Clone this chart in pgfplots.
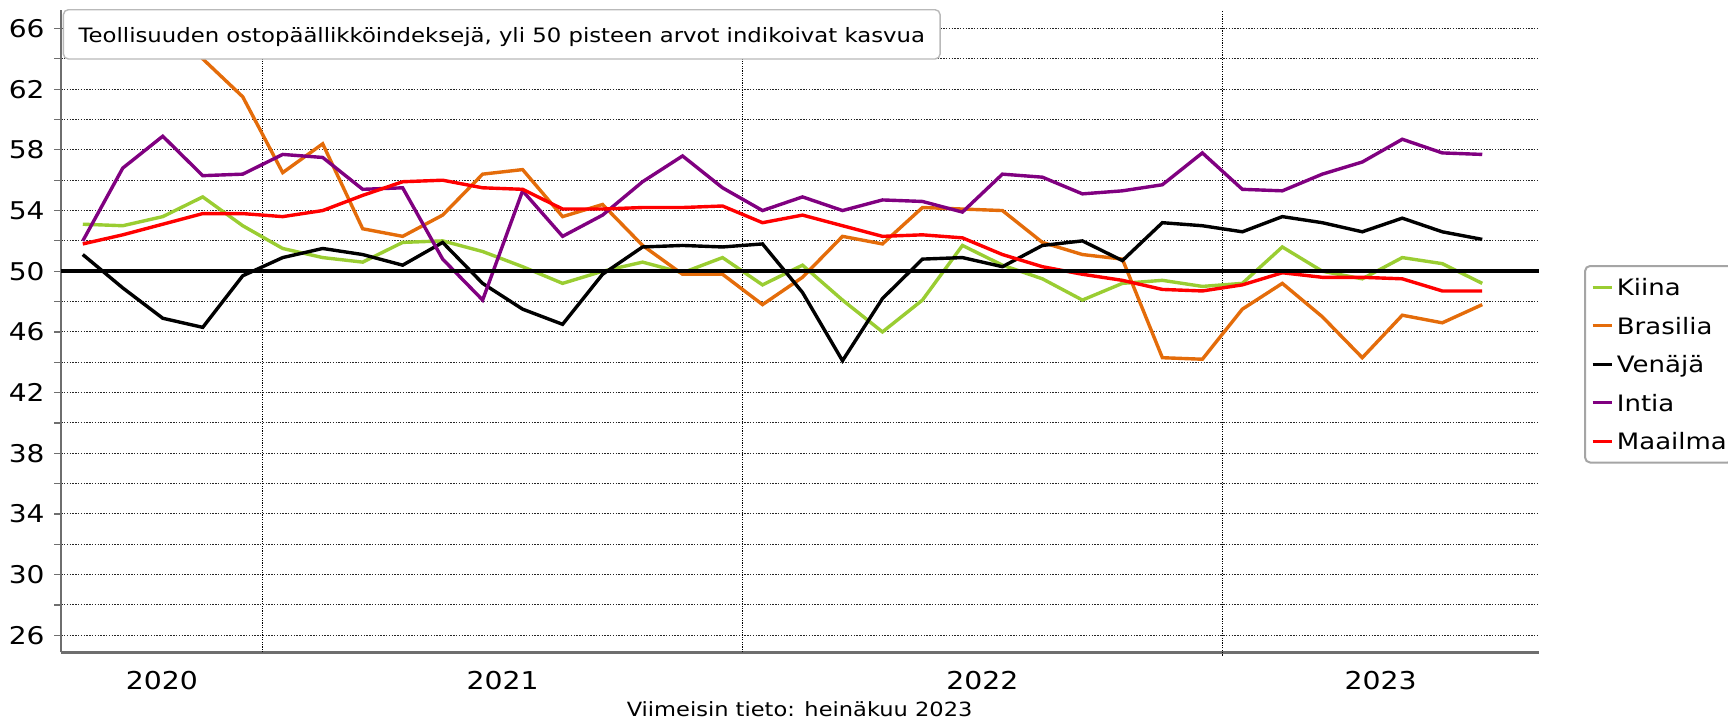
\documentclass[border=0pt]{standalone}
\usepackage{fontspec}
\setmainfont{DejaVu Sans}[FakeStretch=1.15]
\usepackage{pgfplots}
\usepackage{pgfplotstable}
\pgfplotsset{compat=1.18}
\definecolor{cKiina}{RGB}{154,205,50}
\definecolor{cBras}{RGB}{228,108,10}
\definecolor{cInt}{RGB}{128,0,128}
\definecolor{cMaa}{RGB}{255,0,0}
\definecolor{axgray}{RGB}{110,110,110}
\definecolor{boxgray}{RGB}{165,165,165}
\definecolor{titlegray}{RGB}{185,185,185}

\pgfplotstableread{
i kiina brasilia venaja intia maailma
0 53.1 64.7 51.1 52.0 51.8
1 53.0 64.9 48.9 56.8 52.4
2 53.6 66.7 46.9 58.9 53.1
3 54.9 64.0 46.3 56.3 53.8
4 53.0 61.5 49.7 56.4 53.8
5 51.5 56.5 50.9 57.7 53.6
6 50.9 58.4 51.5 57.5 54.0
7 50.6 52.8 51.1 55.4 55.0
8 51.9 52.3 50.4 55.5 55.9
9 52.0 53.7 51.9 50.8 56.0
10 51.3 56.4 49.2 48.1 55.5
11 50.3 56.7 47.5 55.3 55.4
12 49.2 53.6 46.5 52.3 54.1
13 50.0 54.4 49.8 53.7 54.1
14 50.6 51.7 51.6 55.9 54.2
15 49.9 49.8 51.7 57.6 54.2
16 50.9 49.8 51.6 55.5 54.3
17 49.1 47.8 51.8 54.0 53.2
18 50.4 49.6 48.6 54.9 53.7
19 48.1 52.3 44.1 54.0 53.0
20 46.0 51.8 48.2 54.7 52.3
21 48.1 54.2 50.8 54.6 52.4
22 51.7 54.1 50.9 53.9 52.2
23 50.4 54.0 50.3 56.4 51.1
24 49.5 51.9 51.7 56.2 50.3
25 48.1 51.1 52.0 55.1 49.8
26 49.2 50.8 50.7 55.3 49.4
27 49.4 44.3 53.2 55.7 48.8
28 49.0 44.2 53.0 57.8 48.7
29 49.2 47.5 52.6 55.4 49.1
30 51.6 49.2 53.6 55.3 49.9
31 50.0 47.0 53.2 56.4 49.6
32 49.5 44.3 52.6 57.2 49.6
33 50.9 47.1 53.5 58.7 49.5
34 50.5 46.6 52.6 57.8 48.7
35 49.2 47.8 52.1 57.7 48.7
}\data

\begin{document}
\begin{tikzpicture}
\begin{axis}[
  at={(30.6pt,-326.15pt)}, anchor=south west,
  scale only axis, width=738.9pt, height=321.15pt,
  xmin=-0.54, xmax=36.42, ymin=24.88, ymax=67.22,
  axis x line*=bottom, axis y line*=left,
  axis line style={line width=1.2pt, axgray},
  xtick={1.98,10.5,22.5,32.46},
  xticklabels={2020,2021,2022,2023},
  xtick style={draw=none},
  extra x ticks={4.5,16.5,28.5},
  extra x tick labels={},
  extra x tick style={grid=major, major grid style={line width=0.5pt, black, dash pattern=on 0.6pt off 0.6pt, shorten <=-1.6pt}},
  ytick={26,30,...,66},
  minor ytick={28,32,...,64},
  ymajorgrids, yminorgrids,
  major grid style={line width=0.5pt, black!85, dash pattern=on 0.7pt off 0.7pt},
  minor grid style={line width=0.5pt, black!85, dash pattern=on 0.7pt off 0.7pt},
  tick align=outside,
  major tick length=3.5pt, minor tick length=3.5pt,
  ytick style={axgray, line width=0.6pt},
  /pgf/number format/assume math mode=true,
  yticklabel style={font=\fontsize{12.2}{14}\selectfont, anchor=east, inner sep=0pt, xshift=-4.6pt},
  xticklabel style={font=\fontsize{12.3}{14}\selectfont, anchor=base, inner sep=0pt, yshift=-15pt},
  legend style={at={(1.0305,0.603)}, anchor=north west, draw=boxgray, line width=1pt,
    rounded corners=2.5pt, inner xsep=3pt, inner ysep=1pt,
    font=\fontsize{11.3}{13}\selectfont,
    nodes={inner sep=0pt, text height=13.75pt, text depth=5.5pt},
    /tikz/column sep=0pt, /tikz/row sep=0pt},
  legend cell align=left,
  legend image code/.code={\draw[#1, line width=1.5pt] (0pt,0pt) -- (9.5pt,0pt); \path (11.3pt,0pt);},
]
\addplot[cKiina, line width=1.7pt] table[x=i, y=kiina]{\data};
\addlegendentry{Kiina}
\addplot[cBras, line width=1.7pt] table[x=i, y=brasilia]{\data};
\addlegendentry{Brasilia}
\addplot[black, line width=1.7pt] table[x=i, y=venaja]{\data};
\addlegendentry{Venäjä}
\addplot[cInt, line width=1.7pt] table[x=i, y=intia]{\data};
\addlegendentry{Intia}
\addplot[cMaa, line width=1.7pt] table[x=i, y=maailma]{\data};
\addlegendentry{Maailma\hspace{8pt}}
\addplot[black, line width=2pt, forget plot] coordinates {(-0.54,50) (36.42,50)};
\end{axis}
\node[draw=titlegray, line width=0.7pt, fill=white, rounded corners=2.5pt, inner xsep=7.6pt, inner ysep=0pt,
  text height=16.35pt, text depth=8.3pt, anchor=north west, font=\fontsize{9.9}{12}\selectfont]
  at (31.35pt,-4.5pt) {Teollisuuden ostopäällikköindeksejä, yli 50 pisteen arvot indikoivat kasvua};
\node[anchor=base, inner sep=0pt, font=\fontsize{9.8}{12}\selectfont] at (399.8pt,-358pt) {Viimeisin tieto: heinäkuu 2023};
\pgfresetboundingbox
\useasboundingbox (0pt,0pt) rectangle (864pt,-359pt);
\end{tikzpicture}
\end{document}
